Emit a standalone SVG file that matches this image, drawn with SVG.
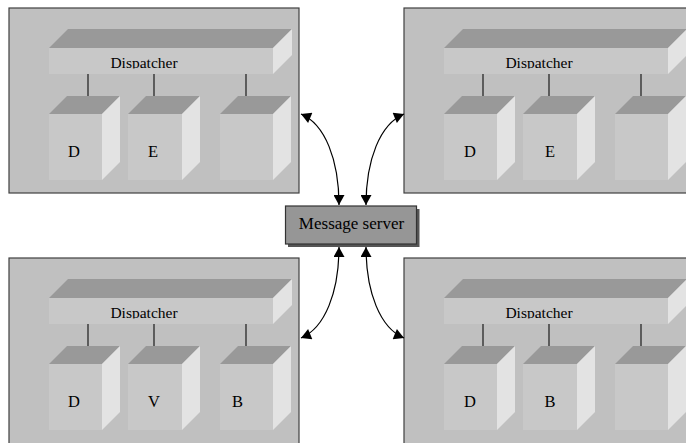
<svg xmlns="http://www.w3.org/2000/svg" width="686" height="443" viewBox="0 0 686 443">
<style>
.panel{fill:#c0c0c0;stroke:#404040;stroke-width:1.2}
.top{fill:#999999}
.front{fill:#c8c8c8}
.side{fill:#e3e3e3}
.link{stroke:#1a1a1a;stroke-width:1.2}
.lbl{font-family:"Liberation Serif","Times New Roman",serif;fill:#000000;text-anchor:middle}
.disp{font-size:15.5px}
.box{font-size:16.5px}
.conn{fill:none;stroke:#000000;stroke-width:1.2}
.srv{fill:#969696;stroke:#333333;stroke-width:1.2}
.shadow{fill:#555555}
</style>
<defs>
<marker id="ah" markerUnits="userSpaceOnUse" markerWidth="11" markerHeight="11" viewBox="0 0 10 11" refX="10" refY="5.5" orient="auto-start-reverse">
<path d="M0,0 L10,5.5 L0,11 z" fill="#000000"/>
</marker>
<clipPath id="dclip" clipPathUnits="userSpaceOnUse"><rect x="49" y="48" width="224" height="20.5"/></clipPath>
</defs>

<g id="panel-top-left">
<rect class="panel" x="9" y="8" width="290" height="185"/>
<polygon class="top" points="49,48 68,29 292,29 273,48"/>
<rect class="front" x="49" y="48" width="224" height="26"/>
<polygon class="side" points="273,48 292,29 292,55 273,74"/>
<text class="lbl disp" x="144" y="67.5" clip-path="url(#dclip)">Dispatcher</text>
<line class="link" x1="88" y1="74" x2="88" y2="100"/>
<line class="link" x1="154" y1="74" x2="154" y2="100"/>
<line class="link" x1="246" y1="74" x2="246" y2="100"/>
<polygon class="top" points="49,114 67,96 120,96 102,114"/>
<rect class="front" x="49" y="114" width="53" height="66"/>
<polygon class="side" points="102,114 120,96 120,162 102,180"/>
<polygon class="top" points="128,114 146,96 200,96 182,114"/>
<rect class="front" x="128" y="114" width="54" height="66"/>
<polygon class="side" points="182,114 200,96 200,162 182,180"/>
<polygon class="top" points="220,114 238,96 291,96 273,114"/>
<rect class="front" x="220" y="114" width="53" height="66"/>
<polygon class="side" points="273,114 291,96 291,162 273,180"/>
<text class="lbl box" x="74" y="156.5">D</text>
<text class="lbl box" x="153" y="156.5">E</text>
</g>

<g id="panel-top-right" transform="translate(395,0)">
<rect class="panel" x="9" y="8" width="300" height="185"/>
<polygon class="top" points="49,48 68,29 292,29 273,48"/>
<rect class="front" x="49" y="48" width="224" height="26"/>
<polygon class="side" points="273,48 292,29 292,55 273,74"/>
<text class="lbl disp" x="144" y="67.5" clip-path="url(#dclip)">Dispatcher</text>
<line class="link" x1="88" y1="74" x2="88" y2="100"/>
<line class="link" x1="154" y1="74" x2="154" y2="100"/>
<line class="link" x1="246" y1="74" x2="246" y2="100"/>
<polygon class="top" points="49,114 67,96 120,96 102,114"/>
<rect class="front" x="49" y="114" width="53" height="66"/>
<polygon class="side" points="102,114 120,96 120,162 102,180"/>
<polygon class="top" points="128,114 146,96 200,96 182,114"/>
<rect class="front" x="128" y="114" width="54" height="66"/>
<polygon class="side" points="182,114 200,96 200,162 182,180"/>
<polygon class="top" points="220,114 238,96 291,96 273,114"/>
<rect class="front" x="220" y="114" width="53" height="66"/>
<polygon class="side" points="273,114 291,96 291,162 273,180"/>
<text class="lbl box" x="75" y="156.5">D</text>
<text class="lbl box" x="155" y="156.5">E</text>
</g>

<g id="panel-bottom-left" transform="translate(0,250)">
<rect class="panel" x="9" y="8" width="290" height="195"/>
<polygon class="top" points="49,48 68,29 292,29 273,48"/>
<rect class="front" x="49" y="48" width="224" height="26"/>
<polygon class="side" points="273,48 292,29 292,55 273,74"/>
<text class="lbl disp" x="144" y="67.5" clip-path="url(#dclip)">Dispatcher</text>
<line class="link" x1="88" y1="74" x2="88" y2="100"/>
<line class="link" x1="154" y1="74" x2="154" y2="100"/>
<line class="link" x1="246" y1="74" x2="246" y2="100"/>
<polygon class="top" points="49,114 67,96 120,96 102,114"/>
<rect class="front" x="49" y="114" width="53" height="66"/>
<polygon class="side" points="102,114 120,96 120,162 102,180"/>
<polygon class="top" points="128,114 146,96 200,96 182,114"/>
<rect class="front" x="128" y="114" width="54" height="66"/>
<polygon class="side" points="182,114 200,96 200,162 182,180"/>
<polygon class="top" points="220,114 238,96 291,96 273,114"/>
<rect class="front" x="220" y="114" width="53" height="66"/>
<polygon class="side" points="273,114 291,96 291,162 273,180"/>
<text class="lbl box" x="74" y="156.5">D</text>
<text class="lbl box" x="154" y="156.5">V</text>
<text class="lbl box" x="237.5" y="156.5">B</text>
</g>

<g id="panel-bottom-right" transform="translate(395,250)">
<rect class="panel" x="9" y="8" width="300" height="195"/>
<polygon class="top" points="49,48 68,29 292,29 273,48"/>
<rect class="front" x="49" y="48" width="224" height="26"/>
<polygon class="side" points="273,48 292,29 292,55 273,74"/>
<text class="lbl disp" x="144" y="67.5" clip-path="url(#dclip)">Dispatcher</text>
<line class="link" x1="88" y1="74" x2="88" y2="100"/>
<line class="link" x1="154" y1="74" x2="154" y2="100"/>
<line class="link" x1="246" y1="74" x2="246" y2="100"/>
<polygon class="top" points="49,114 67,96 120,96 102,114"/>
<rect class="front" x="49" y="114" width="53" height="66"/>
<polygon class="side" points="102,114 120,96 120,162 102,180"/>
<polygon class="top" points="128,114 146,96 200,96 182,114"/>
<rect class="front" x="128" y="114" width="54" height="66"/>
<polygon class="side" points="182,114 200,96 200,162 182,180"/>
<polygon class="top" points="220,114 238,96 291,96 273,114"/>
<rect class="front" x="220" y="114" width="53" height="66"/>
<polygon class="side" points="273,114 291,96 291,162 273,180"/>
<text class="lbl box" x="75" y="156.5">D</text>
<text class="lbl box" x="155" y="156.5">B</text>
</g>

<g id="message-server">
<rect class="shadow" x="288" y="209" width="131.5" height="38"/>
<rect class="srv" x="285.5" y="206" width="131" height="38"/>
<text class="lbl" x="351.5" y="228.5" font-size="17">Message server</text>
</g>

<g id="connectors">
<path class="conn" d="M301,114 C325,124 339,160 339,205" marker-start="url(#ah)" marker-end="url(#ah)"/>
<path class="conn" d="M404,114 C380,124 366,160 366,205" marker-start="url(#ah)" marker-end="url(#ah)"/>
<path class="conn" d="M339,247 C339,292 325,328 301,338" marker-start="url(#ah)" marker-end="url(#ah)"/>
<path class="conn" d="M366,247 C366,292 380,328 404,338" marker-start="url(#ah)" marker-end="url(#ah)"/>
</g>
</svg>
